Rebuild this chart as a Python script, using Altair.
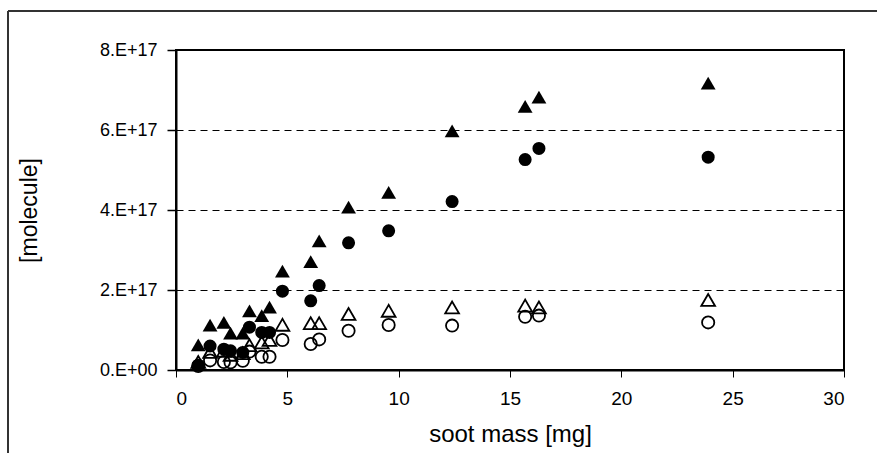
import altair as alt
import pandas as pd

# soot mass [mg]
soot_mass = [1.0, 1.53, 2.15, 2.45, 3.0, 3.3, 3.85, 4.2, 4.78, 6.05, 6.43, 7.75, 9.55, 12.4, 15.68, 16.3, 23.9]
# filled triangles  [x1e17 molecule]
filled_tri = [0.63, 1.12, 1.19, 0.92, 0.92, 1.48, 1.36, 1.57, 2.47, 2.71, 3.23, 4.07, 4.44, 5.98, 6.59, 6.82, 7.17]
# filled circles
filled_circ = [0.12, 0.6, 0.52, 0.48, 0.44, 1.07, 0.94, 0.94, 1.97, 1.73, 2.11, 3.18, 3.48, 4.21, 5.26, 5.54, 5.32]
# open triangles
open_tri = [0.2, 0.45, 0.48, 0.38, 0.42, 0.62, 0.69, 0.75, 1.13, 1.17, 1.17, 1.40, 1.48, 1.565, 1.61, 1.565, 1.75]
# open circles
open_circ = [0.1, 0.24, 0.2, 0.19, 0.23, 0.46, 0.33, 0.33, 0.75, 0.65, 0.765, 0.98, 1.125, 1.11, 1.33, 1.36, 1.19]

y_ticks = [0, 2e17, 4e17, 6e17, 8e17]
x_ticks = [0, 5, 10, 15, 20, 25, 30]

def frame(vals):
    return pd.DataFrame({"x": soot_mass, "y": [v * 1e17 for v in vals]})

FONT = "Liberation Sans"

x_enc = alt.X("x:Q", scale=alt.Scale(domain=[0, 30], nice=False),
              axis=alt.Axis(values=x_ticks, title="soot mass [mg]", grid=False,
                            tickSize=7, labelPadding=12, titlePadding=14,
                            labelFontSize=19, titleFontSize=24,
                            labelFont=FONT, titleFont=FONT,
                            labelColor="black", titleColor="black",
                            domainColor="black", tickColor="black",
                            domainWidth=2, tickWidth=1, titleFontWeight="normal"))
y_enc = alt.Y("y:Q", scale=alt.Scale(domain=[0, 8e17], nice=False),
              axis=alt.Axis(values=y_ticks, title="[molecule]", grid=True,
                            gridDash=[7, 5], gridColor="black", gridWidth=1,
                            labelExpr="datum.value === 0 ? '0.E+00' : round(datum.value/1e17) + '.E+17'",
                            tickSize=9, labelPadding=10, titlePadding=58,
                            labelFontSize=18, titleFontSize=23,
                            labelFont=FONT, titleFont=FONT,
                            labelColor="black", titleColor="black",
                            domainColor="black", tickColor="black",
                            domainWidth=2, tickWidth=1.5, titleFontWeight="normal"))

open_c = alt.Chart(frame(open_circ)).mark_point(
    shape="circle", size=150, filled=False, color="black", strokeWidth=1.8, opacity=1
).encode(x=x_enc, y=y_enc)
open_t = alt.Chart(frame(open_tri)).mark_point(
    shape="triangle-up", size=190, filled=False, color="black", strokeWidth=1.8, opacity=1
).encode(x=x_enc, y=y_enc)
fill_c = alt.Chart(frame(filled_circ)).mark_point(
    shape="circle", size=170, filled=True, color="black", opacity=1
).encode(x=x_enc, y=y_enc)
fill_t = alt.Chart(frame(filled_tri)).mark_point(
    shape="triangle-up", size=220, filled=True, color="black", opacity=1
).encode(x=x_enc, y=y_enc)

one = pd.DataFrame({"a": [0]})
frame_left = alt.Chart(one).mark_rule(color="#333333", strokeWidth=2).encode(
    x=alt.value(-168), y=alt.value(-39), y2=alt.value(410))
frame_top = alt.Chart(one).mark_rule(color="#333333", strokeWidth=2).encode(
    x=alt.value(-168), x2=alt.value(710), y=alt.value(-39))

chart = alt.layer(frame_left, frame_top, open_c, open_t, fill_c, fill_t).properties(
    width=668, height=320,
    autosize=alt.AutoSizeParams(type="none"),
    padding={"left": 176, "top": 50, "right": 33, "bottom": 84},
    background="white",
).configure_view(stroke="black", strokeWidth=2)

chart.save("out.html", embed_options={"renderer": "svg", "actions": False})
